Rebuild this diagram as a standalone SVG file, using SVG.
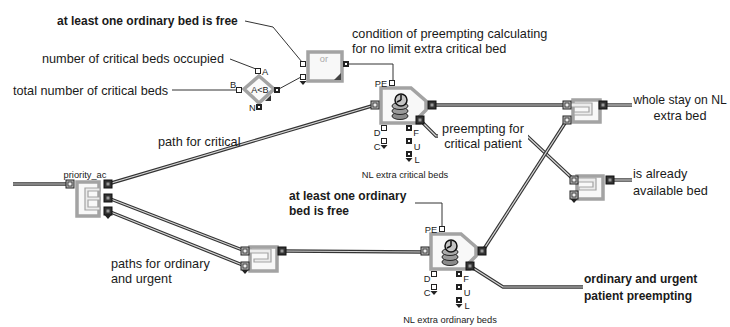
<svg xmlns="http://www.w3.org/2000/svg" xmlns:xlink="http://www.w3.org/1999/xlink" width="730" height="327" viewBox="0 0 730 327">
<style>
.t{font-family:"Liberation Sans",Arial,sans-serif;font-size:12.7px;fill:#1a1a1a}
.b{font-weight:bold;font-size:12px}
.s{font-family:"Liberation Sans",Arial,sans-serif;font-size:9.3px;fill:#1a1a1a}
.m{text-anchor:middle}
.it{fill:none;stroke:#333;stroke-width:3.4;stroke-linejoin:round}
.iti{fill:none;stroke:#d6d6d6;stroke-width:1.2;stroke-linejoin:round}
.v{fill:none;stroke:#333;stroke-width:1}
.blk{fill:#f8f8f8;stroke:#a3a3a3;stroke-width:3.5}
.inner{fill:#ececec;stroke:#a3a3a3;stroke-width:1.2}
</style>
<defs>
<g id="vin"><rect x="-2.5" y="-2.5" width="5" height="5" fill="#fff" stroke="#222" stroke-width="1"/></g>
<g id="vout"><rect x="-3" y="-3" width="6" height="6" fill="#222"/><rect x="-1" y="-1" width="2" height="2" fill="#fff"/></g>
<g id="iin"><rect x="-4" y="-4" width="8" height="8" fill="#bdbdbd" stroke="#222" stroke-width="1"/><rect x="-2" y="-2" width="4" height="4" fill="#eee" stroke="#222" stroke-width="0.8"/></g>
<g id="iout"><rect x="-4" y="-4" width="8" height="8" fill="#333" stroke="#111" stroke-width="1"/><rect x="-1.5" y="-1.5" width="3" height="3" fill="#999"/></g>
<path id="tri" d="M-3.5,0 H3.5 L0,4 Z" fill="#222"/>
<g id="act">
<path class="blk" d="M381,88 H411 L426,101 V110 L419,117 V123 H381 Z"/>
<ellipse cx="400" cy="116" rx="8" ry="3.5" fill="#8a8a8a" stroke="#222"/>
<ellipse cx="400" cy="111" rx="8" ry="3.5" fill="#9a9a9a" stroke="#222"/>
<ellipse cx="400" cy="106" rx="8" ry="3.5" fill="#aaa" stroke="#222"/>
<circle cx="401" cy="100" r="6" fill="#c4c4c4" stroke="#111" stroke-width="1.5"/>
<path d="M401,100 V95 M401,100 L397,102" stroke="#111" stroke-width="1.5" fill="none"/>
<use xlink:href="#iin" x="375" y="105"/>
<use xlink:href="#iout" x="432" y="105"/>
<use xlink:href="#iout" x="420" y="120"/>
<use xlink:href="#vin" x="392" y="83"/>
<use xlink:href="#vin" x="384" y="128"/>
<use xlink:href="#vin" x="384" y="141"/>
<use xlink:href="#tri" x="384" y="145"/>
<use xlink:href="#vout" x="409" y="128"/>
<use xlink:href="#vout" x="409" y="141"/>
<use xlink:href="#vout" x="409" y="154"/>
<use xlink:href="#tri" x="409" y="158"/>
<text class="s m" x="381" y="86.5">PE</text>
<text class="s m" x="377" y="136">D</text>
<text class="s m" x="377" y="150">C</text>
<text class="s m" x="416" y="136">F</text>
<text class="s m" x="417" y="150">U</text>
<text class="s m" x="417" y="163">L</text>
</g>
</defs>
<rect width="730" height="327" fill="#fff"/>

<g id="connectors">
<path class="it" d="M13,184 H70"/><path class="iti" d="M13,184 H70"/>
<path class="it" d="M108,184 L375,105"/><path class="iti" d="M108,184 L375,105"/>
<path class="it" d="M108,198 L245,251"/><path class="iti" d="M108,198 L245,251"/>
<path class="it" d="M108,211 L245,266"/><path class="iti" d="M108,211 L245,266"/>
<path class="it" d="M282,251 L423,252"/><path class="iti" d="M282,251 L423,252"/>
<path class="it" d="M432,105 L567,105"/><path class="iti" d="M432,105 L567,105"/>
<path class="it" d="M420,120 L436,136 H527 L574,180"/><path class="iti" d="M420,120 L436,136 H527 L574,180"/>
<path class="it" d="M482,252 L567,120"/><path class="iti" d="M482,252 L567,120"/>
<path class="it" d="M470,266 L503,287 H583"/><path class="iti" d="M470,266 L503,287 H583"/>
<path class="it" d="M603,105 H632"/><path class="iti" d="M603,105 H632"/>
<path class="it" d="M610,180 H632"/><path class="iti" d="M610,180 H632"/>
<path class="v" d="M245,21 L273,27 L302,62"/>
<path class="v" d="M230,59 L256,69"/>
<path class="v" d="M172,90 H237"/>
<path class="v" d="M277,90 L301,77"/>
<path class="v" d="M346,64 H393 V81"/>
<path class="v" d="M415,203 H442 V227"/>
</g>

<g id="n-compare">
<polygon points="259,76 274,89 259,103 244,89" fill="#fafafa" stroke="#a3a3a3" stroke-width="3.5"/>
<path d="M265,101 L271,95 V101 Z" fill="#333"/>
<text class="s m" x="260" y="93" style="font-size:9px">A&lt;B</text>
<use xlink:href="#vin" x="258" y="71"/>
<use xlink:href="#vin" x="239" y="90"/>
<use xlink:href="#vout" x="259" y="107"/>
<use xlink:href="#vout" x="277" y="90"/>
<text class="s" x="262" y="75">A</text>
<text class="s" x="230" y="88">B</text>
<text class="s" x="249" y="111">N</text>
</g>

<g id="n-or">
<rect class="blk" x="308" y="52" width="34" height="29"/>
<path d="M334,80 H341 V73 Z" fill="#444"/>
<text class="s m" x="324" y="62" style="fill:#aaa">or</text>
<use xlink:href="#vin" x="303" y="64"/>
<use xlink:href="#vin" x="303" y="77"/>
<use xlink:href="#tri" x="303" y="81"/>
<use xlink:href="#vout" x="346" y="64"/>
</g>

<g id="n-crit-beds">
<use xlink:href="#act"/>
<text class="s m" x="405" y="177.5">NL extra critical beds</text>
</g>

<g id="n-ord-beds">
<use xlink:href="#act" transform="translate(50,146)"/>
<text class="s m" x="450" y="323">NL extra ordinary beds</text>
</g>

<g id="n-priority">
<rect class="blk" x="77" y="182" width="22" height="34"/>
<path class="inner" d="M100,188 H85 V210 H100 V207 H88 V200 H100 V197 H88 V191 H100 Z"/>
<use xlink:href="#iin" x="70" y="184"/>
<use xlink:href="#iout" x="108" y="184"/>
<use xlink:href="#iout" x="108" y="198"/>
<use xlink:href="#iout" x="108" y="211"/>
<use xlink:href="#tri" x="108" y="215"/>
<text class="s m" x="85" y="178">priority_ac</text>
</g>

<g id="n-merge">
<rect class="blk" x="250" y="247" width="27" height="24"/>
<path class="inner" d="M249,249 H271 V262 H254 V259 H268 V253 H249 Z"/>
<use xlink:href="#iin" x="245" y="251"/>
<use xlink:href="#iin" x="245" y="266"/>
<use xlink:href="#tri" x="245" y="270"/>
<use xlink:href="#iout" x="282" y="251"/>
</g>

<g id="n-sel-whole">
<rect class="blk" x="573" y="100" width="27" height="22"/>
<path class="inner" d="M569,103 H592 V115 H574 V112 H589 V107 H569 Z"/>
<use xlink:href="#iin" x="567" y="105"/>
<use xlink:href="#iin" x="567" y="120"/>
<use xlink:href="#iout" x="603" y="105"/>
</g>

<g id="n-sel-avail">
<rect class="blk" x="577" y="176" width="26" height="23"/>
<path class="inner" d="M576,178 H596 V190 H579 V187 H593 V182 H576 Z"/>
<use xlink:href="#iin" x="574" y="180"/>
<use xlink:href="#iin" x="574" y="195"/>
<use xlink:href="#tri" x="574" y="199"/>
<use xlink:href="#iout" x="610" y="180"/>
</g>

<g id="labels">
<text class="t b" x="57" y="24.5">at least one ordinary bed is free</text>
<text class="t" x="42" y="62.5">number of critical beds occupied</text>
<text class="t" x="13" y="94.5">total number of critical beds</text>
<text class="t" x="352" y="37.5">condition of preempting calculating</text>
<text class="t" x="352" y="52.5">for no limit extra critical bed</text>
<text class="t" x="158" y="146">path for critical</text>
<rect x="438" y="122" width="90" height="28" fill="#fff"/>
<text class="t m" x="483" y="132.5">preempting for</text>
<text class="t m" x="483" y="147.5">critical patient</text>
<text class="t m" x="680" y="103.5" style="font-size:12.2px">whole stay on NL</text>
<text class="t m" x="680" y="119.5">extra bed</text>
<text class="t" x="633" y="177.5">is already</text>
<text class="t" x="633" y="194.5">available bed</text>
<text class="t b" x="289" y="199.5">at least one ordinary</text>
<text class="t b" x="289" y="214.5">bed is free</text>
<text class="t" x="111" y="267.5">paths for ordinary</text>
<text class="t" x="111" y="282.5">and urgent</text>
<text class="t b" x="584" y="282.5">ordinary and urgent</text>
<text class="t b" x="584" y="299.5">patient preempting</text>
</g>
</svg>
